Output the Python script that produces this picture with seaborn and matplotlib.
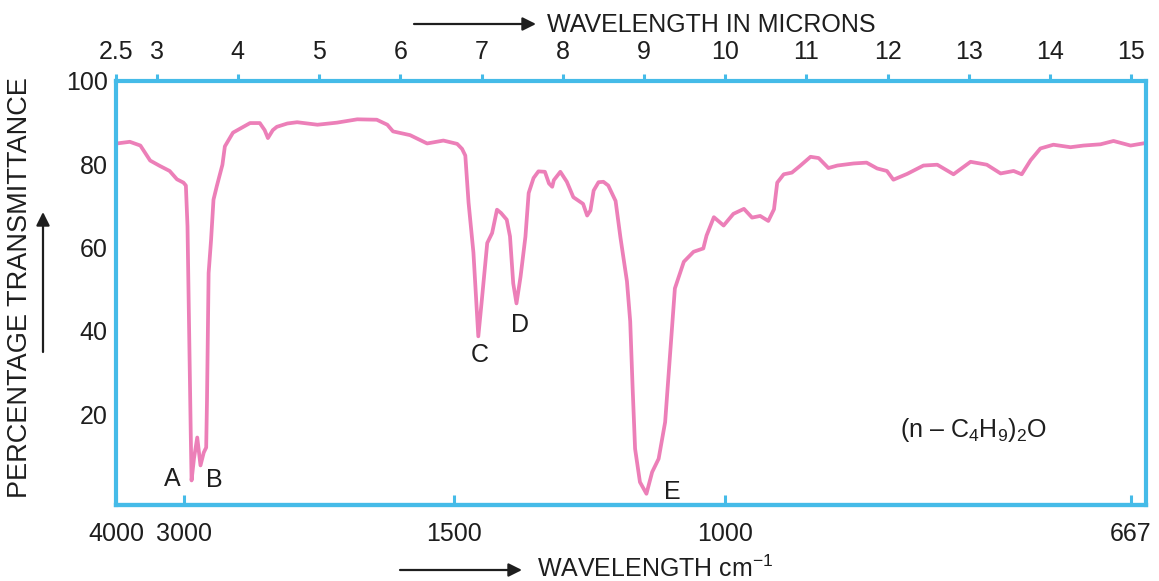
import numpy as np
import pandas as pd
import matplotlib
matplotlib.use("Agg")
import matplotlib.pyplot as plt
import seaborn as sns

# IR spectrum of di-n-butyl ether, (n-C4H9)2O
wavelength_um = [
    2.51, 2.67, 2.80, 2.92, 3.04, 3.16, 3.25, 3.33, 3.36, 3.38,
    3.40, 3.42, 3.43, 3.46, 3.50, 3.54, 3.58, 3.61, 3.62, 3.63,
    3.64, 3.67, 3.70, 3.74, 3.81, 3.84, 3.94, 4.15, 4.27, 4.33,
    4.37, 4.43, 4.48, 4.61, 4.73, 4.98, 5.22, 5.47, 5.71, 5.84,
    5.91, 6.12, 6.33, 6.53, 6.70, 6.76, 6.80, 6.84, 6.90, 6.94,
    6.96, 7.00, 7.07, 7.13, 7.19, 7.24, 7.31, 7.35, 7.39, 7.43,
    7.48, 7.54, 7.58, 7.64, 7.70, 7.78, 7.83, 7.87, 7.89, 7.97,
    8.05, 8.13, 8.25, 8.30, 8.34, 8.38, 8.44, 8.50, 8.56, 8.65,
    8.71, 8.79, 8.83, 8.86, 8.89, 8.95, 9.03, 9.10, 9.18, 9.26,
    9.32, 9.38, 9.49, 9.61, 9.73, 9.77, 9.86, 9.98, 10.10, 10.23,
    10.33, 10.43, 10.53, 10.60, 10.64, 10.72, 10.82, 10.92, 11.05, 11.15,
    11.27, 11.38, 11.58, 11.74, 11.87, 11.99, 12.07, 12.24, 12.44, 12.61,
    12.81, 13.02, 13.22, 13.39, 13.55, 13.65, 13.76, 13.88, 14.04, 14.25,
    14.41, 14.62, 14.78, 14.99, 15.17,
]
transmittance = [
    85.0, 85.4, 84.5, 80.9, 79.6, 78.4, 76.4, 75.6, 74.9, 65.1,
    39.5, 15.4, 4.1, 9.4, 14.4, 7.7, 10.8, 12.0, 23.3, 39.4,
    53.9, 61.8, 71.5, 74.7, 79.9, 84.3, 87.6, 89.9, 89.9, 88.2,
    86.3, 88.2, 89.0, 89.8, 90.1, 89.5, 90.0, 90.8, 90.7, 89.5,
    87.9, 87.0, 85.0, 85.7, 84.9, 83.7, 82.1, 70.8, 58.8, 45.1,
    38.7, 46.7, 61.1, 63.5, 69.1, 68.3, 66.7, 62.7, 51.4, 46.6,
    53.0, 62.6, 73.1, 76.7, 78.3, 78.2, 75.4, 74.6, 76.2, 78.2,
    75.8, 72.1, 70.5, 67.7, 68.9, 73.7, 75.7, 75.8, 74.9, 71.2,
    62.4, 51.9, 42.3, 26.2, 11.7, 3.7, 0.9, 6.1, 9.3, 18.1,
    34.1, 50.2, 56.6, 59.0, 59.8, 62.9, 67.3, 65.3, 68.1, 69.3,
    67.2, 67.6, 66.4, 69.2, 75.6, 77.6, 78.0, 79.6, 81.8, 81.5,
    79.1, 79.7, 80.2, 80.4, 79.0, 78.4, 76.3, 77.7, 79.7, 79.9,
    77.6, 80.6, 79.9, 77.8, 78.4, 77.6, 81.0, 83.8, 84.7, 84.1,
    84.5, 84.8, 85.6, 84.5, 85.1,
]

micron_ticks = [2.5, 3, 4, 5, 6, 7, 8, 9, 10, 11, 12, 13, 14, 15]
micron_tick_labels = ["2.5", "3", "4", "5", "6", "7", "8", "9", "10",
                      "11", "12", "13", "14", "15"]
wavenumber_ticks = [4000, 3000, 1500, 1000, 667]
wavenumber_tick_labels = ["4000", "3000", "1500", "1000", "667"]
percent_ticks = [20, 40, 60, 80, 100]

band_names = ["A", "B", "C", "D", "E"]
band_label_x = [3.19, 3.71, 6.98, 7.47, 9.35]
band_label_y = [4.4, 4.3, 34.2, 41.5, 1.4]

compound = "(n – C$_4$H$_9$)$_2$O"

FRAME = "#45bbe8"
TRACE = "#ec7fb8"
INK = "#1e1e1e"
FS = 18

sns.set_theme(style="white")
plt.rcParams["font.family"] = ["Liberation Sans", "DejaVu Sans"]
plt.rcParams["mathtext.fontset"] = "custom"
plt.rcParams["mathtext.rm"] = "Liberation Sans"
plt.rcParams["mathtext.it"] = "Liberation Sans:italic"
plt.rcParams["mathtext.bf"] = "Liberation Sans:bold"
plt.rcParams["text.color"] = INK

fig = plt.figure(figsize=(11.59, 5.81), dpi=100)
ax = fig.add_axes([0.1001, 0.1308, 0.8887, 0.7298])

spectrum = pd.DataFrame({"wavelength": wavelength_um, "T": transmittance})
sns.lineplot(data=spectrum, x="wavelength", y="T", ax=ax, color=TRACE,
             lw=2.7, estimator=None, sort=False,
             solid_joinstyle="round", solid_capstyle="round")

ax.set_xlim(2.5, 15.18)
ax.set_ylim(-1.8, 100)
ax.set_xlabel("")
ax.set_ylabel("")

for side in ["left", "right", "top", "bottom"]:
    ax.spines[side].set_color(FRAME)
    ax.spines[side].set_linewidth(3.0)

# micron scale along the top
ax.xaxis.set_ticks_position("top")
ax.set_xticks(micron_ticks, micron_tick_labels)
ax.tick_params(axis="x", direction="out", length=5, width=2.2,
               color=FRAME, pad=7, labelsize=FS, labelcolor=INK)

ax.set_yticks(percent_ticks, [str(v) for v in percent_ticks])
ax.tick_params(axis="y", direction="in", length=7, width=2.2,
               color=FRAME, pad=6, labelsize=FS, labelcolor=INK)


def um_to_cm(x):
    x = np.asarray(x, dtype=float)
    with np.errstate(divide="ignore", invalid="ignore"):
        return 1e4 / x


# wavenumber scale along the bottom
sec = ax.secondary_xaxis("bottom", functions=(um_to_cm, um_to_cm))
sec.set_xticks(wavenumber_ticks, wavenumber_tick_labels)
sec.tick_params(axis="x", direction="in", length=7, width=2.2,
                color=FRAME, pad=12, labelsize=FS, labelcolor=INK)
sec.spines["bottom"].set_color(FRAME)
sec.spines["bottom"].set_linewidth(3.0)

for name, bx, by in zip(band_names, band_label_x, band_label_y):
    ax.text(bx, by, name, ha="center", va="center", fontsize=FS)

ax.text(12.15, 16.2, compound, ha="left", va="center", fontsize=FS)

# axis captions with direction arrows
arrow_style = dict(arrowstyle="-|>", color=INK, lw=1.6, mutation_scale=20,
                   shrinkA=0, shrinkB=0)
ax.annotate("", xy=(536, 557), xytext=(414, 557), xycoords="figure pixels",
            textcoords="figure pixels", arrowprops=arrow_style,
            annotation_clip=False)
fig.text(547 / 1159, 556 / 581, "WAVELENGTH IN MICRONS", ha="left",
         va="center", fontsize=FS)

ax.annotate("", xy=(522, 11), xytext=(400, 11), xycoords="figure pixels",
            textcoords="figure pixels", arrowprops=arrow_style,
            annotation_clip=False)
fig.text(537 / 1159, 4 / 581, "WAVELENGTH cm$^{-1}$", ha="left",
         va="baseline", fontsize=FS)

ax.annotate("", xy=(43, 369), xytext=(43, 229), xycoords="figure pixels",
            textcoords="figure pixels", arrowprops=arrow_style,
            annotation_clip=False)
fig.text(20 / 1159, 293 / 581, "PERCENTAGE TRANSMITTANCE", ha="center",
         va="center", rotation=90, fontsize=19.5)

fig.savefig("out.png", dpi=100)
